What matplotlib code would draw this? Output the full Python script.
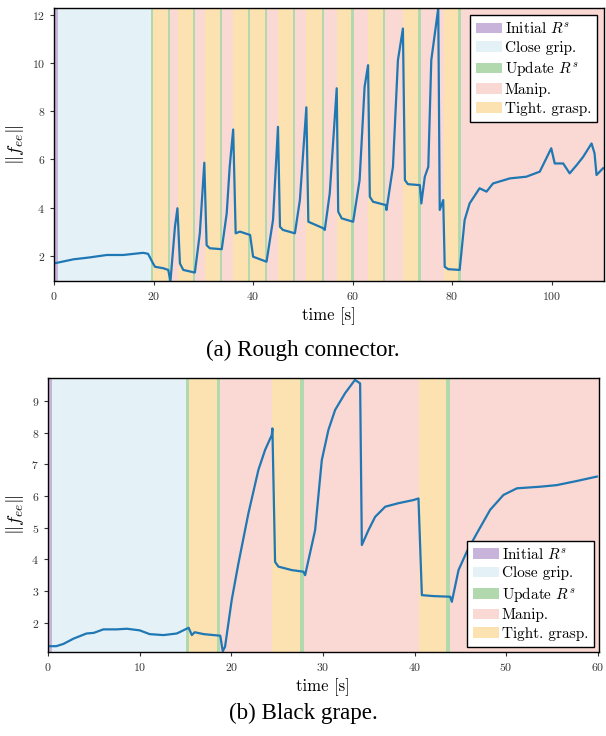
import matplotlib
matplotlib.use('Agg')
import matplotlib.pyplot as plt
from matplotlib.patches import Patch

plt.rcParams['font.family'] = 'serif'
plt.rcParams['font.serif'] = ['cmr10', 'DejaVu Serif']
plt.rcParams['mathtext.fontset'] = 'cm'
plt.rcParams['axes.formatter.use_mathtext'] = True
plt.rcParams['axes.unicode_minus'] = False

# phase colours and legend names
phase_colors = {
    'init': '#c8b3da',
    'close': '#e4f2f8',
    'update': '#b2d9ae',
    'manip': '#fad8d3',
    'tight': '#fde2b1',
}
legend_keys = ['init', 'close', 'update', 'manip', 'tight']
legend_labels = ['Initial $R^s$', 'Close grip.', 'Update $R^s$', 'Manip.', 'Tight. grasp.']

# (a) rough connector: force norm
top_t = [0, 3.9, 7.2, 10.6, 13.9, 17.9, 18.9, 19.9, 20.3, 21.95, 22.95, 23.4, 24.3, 24.8,
         25.3, 25.97, 28.3, 29.3, 30.2, 30.66, 31.3, 33.7, 34.7, 35.3, 36.0, 36.5, 37.35,
         39.4, 40.0, 42.7, 44.0, 45.0, 45.4, 46.0, 48.4, 49.4, 50.7, 51.1, 54.1, 54.4,
         55.4, 56.8, 57.1, 57.8, 60.1, 61.4, 62.4, 63.1, 63.45, 64.1, 66.7, 66.8, 68.1,
         69.1, 70.1, 70.5, 71.1, 73.5, 73.8, 74.5, 75.2, 75.8, 77.2, 77.5, 78.2, 78.5,
         79.2, 81.5, 82.5, 83.5, 85.5, 86.9, 88.2, 91.6, 94.9, 97.6, 99.9, 100.6, 102.3,
         103.6, 105.0, 106.3, 108.0, 108.6, 109.0, 110.3]
top_f = [1.68, 1.85, 1.93, 2.03, 2.03, 2.12, 2.08, 1.68, 1.54, 1.48, 1.41, 0.95, 3.2, 3.97,
         1.68, 1.41, 1.3, 2.93, 5.86, 2.44, 2.31, 2.27, 3.76, 5.69, 7.24, 2.93, 3.0,
         2.86, 1.96, 1.75, 3.48, 7.35, 3.2, 3.07, 2.93, 4.31, 8.16, 3.41, 3.14, 3.07,
         4.59, 8.95, 3.83, 3.55, 3.41, 5.14, 9.01, 9.91, 4.45, 4.24, 4.1, 3.9, 5.69,
         10.12, 11.43, 5.14, 4.97, 4.93, 4.17, 5.28, 5.69, 10.12, 12.27, 3.9, 4.31, 1.54,
         1.44, 1.41, 3.48, 4.17, 4.8, 4.66, 5.0, 5.21, 5.28, 5.49, 6.46, 5.83, 5.83,
         5.42, 5.76, 6.1, 6.66, 6.25, 5.35, 5.63]
top_bounds = [0, 0.75, 19.5, 19.9, 22.95, 23.3, 25.0, 27.9, 28.3, 30.3, 33.4, 33.8, 36.0,
              39.0, 39.4, 42.4, 42.8, 45.0, 48.05, 48.45, 50.7, 53.9, 54.3, 56.8, 59.6,
              60.2, 63.1, 66.1, 66.6, 70.2, 73.2, 73.7, 78.3, 81.2, 81.7, 110.5]
top_phases = ['init', 'close', 'update', 'tight', 'update', 'manip',
              'tight', 'update', 'manip', 'tight', 'update', 'manip',
              'tight', 'update', 'tight', 'update', 'manip',
              'tight', 'update', 'manip', 'tight', 'update', 'manip',
              'tight', 'update', 'manip', 'tight', 'update', 'manip',
              'tight', 'update', 'manip', 'tight', 'update', 'manip']

# (b) black grape: force norm
bot_t = [0, 0.9, 1.67, 2.8, 4.2, 5.0, 6.04, 7.5, 8.6, 10.0, 11.1, 12.6, 14.05, 15.35, 15.7,
         16.0, 17.0, 18.8, 19.07, 19.32, 20.05, 20.78, 21.87, 22.96, 23.69, 24.42, 24.49,
         24.78, 25.14, 26.6, 27.87, 28.06, 29.15, 29.88, 30.6, 31.33, 32.42, 33.5, 34.06,
         34.25, 34.97, 35.7, 36.8, 38.24, 39.88, 40.43, 40.8, 42.07, 43.89, 44.07, 44.8,
         45.7, 46.8, 48.25, 49.7, 51.17, 53.7, 55.5, 57.7, 59.9]
bot_f = [1.26, 1.26, 1.33, 1.5, 1.66, 1.68, 1.79, 1.79, 1.81, 1.76, 1.64, 1.61, 1.66, 1.84, 1.61,
         1.70, 1.64, 1.59, 1.10, 1.24, 2.72, 3.87, 5.45, 6.82, 7.45, 7.92, 8.13,
         3.92, 3.77, 3.66, 3.61, 3.5, 4.92, 7.13, 8.08, 8.71, 9.24, 9.66, 9.55,
         4.45, 4.92, 5.34, 5.66, 5.77, 5.87, 5.92, 2.87, 2.84, 2.82, 2.66, 3.66,
         4.24, 4.82, 5.56, 6.03, 6.24, 6.29, 6.34, 6.47, 6.61]
bot_bounds = [0, 0.4, 15.07, 15.36, 18.45, 18.81, 24.49, 27.48, 27.9, 40.5, 43.45, 43.85, 60.1]
bot_phases = ['init', 'close', 'update', 'tight', 'update', 'manip',
              'tight', 'update', 'manip', 'tight', 'update', 'manip']


def draw(ax, t, f, bounds, phases, xlim, ylim, xticks, yticks, loc, pad):
    for i, name in enumerate(phases):
        ax.axvspan(bounds[i], bounds[i + 1], color=phase_colors[name], lw=0, zorder=0)
    ax.plot(t, f, color='#1f77b4', lw=1.6, zorder=2)
    ax.set_xlim(xlim)
    ax.set_ylim(ylim)
    ax.set_xticks(xticks)
    ax.set_yticks(yticks)
    ax.tick_params(labelsize=8.5, length=3, width=0.8, colors='#333333')
    for s in ax.spines.values():
        s.set_color('black')
        s.set_linewidth(1.0)
    ax.set_xlabel('time [s]', fontsize=12)
    ax.set_ylabel(r'$\|f_{ee}\|$', fontsize=13.5)
    handles = [Patch(facecolor=phase_colors[k], edgecolor='none') for k in legend_keys]
    leg = ax.legend(handles, legend_labels, loc=loc, fontsize=11, fancybox=False,
                    framealpha=1, edgecolor='black', labelspacing=0.3,
                    handletextpad=0.2, borderpad=0.4, borderaxespad=pad,
                    handlelength=1.7)
    leg.get_frame().set_linewidth(1.0)


fig = plt.figure(figsize=(6.06, 7.36), dpi=100)
ax1 = fig.add_axes([0.0891, 0.6182, 0.9076, 0.3705])
ax2 = fig.add_axes([0.0792, 0.1145, 0.9088, 0.3715])

draw(ax1, top_t, top_f, top_bounds, top_phases, (0, 110.5), (0.95, 12.27),
     range(0, 101, 20), range(2, 13, 2), 'upper right', 0.45)
draw(ax2, bot_t, bot_f, bot_bounds, bot_phases, (0, 60.1), (1.085, 9.71),
     range(0, 61, 10), range(2, 10), 'lower right', 0.3)

fig.text(0.5, 1 - 350 / 736, '(a) Rough connector.', ha='center', va='center',
         family='Liberation Serif', fontsize=16.6)
fig.text(0.5, 1 - 713 / 736, '(b) Black grape.', ha='center', va='center',
         family='Liberation Serif', fontsize=16.6)

fig.savefig('out.png', dpi=100)
